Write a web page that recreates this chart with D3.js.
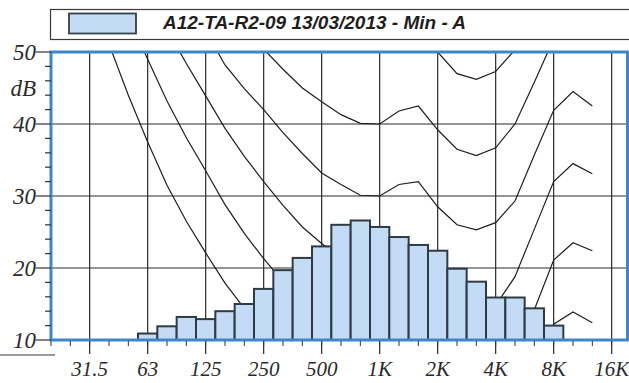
<!DOCTYPE html>
<html>

<head>
  <title>Spectre tiers d'octave</title>
  <script type="text/javascript" src="https://cdn.jsdelivr.net/npm/d3@7"></script>
  <style>
    body { margin: 0; background: #fff; }
    svg { display: block; }
  </style>
</head>

<body>
  <script type="text/javascript">
    // Window size
    const w = 629;
    const h = 383;

    // Third-octave bands (Hz)
    const bands = ["20", "25", "31.5", "40", "50", "63", "80", "100", "125", "160", "200", "250",
      "315", "400", "500", "630", "800", "1000", "1250", "1600", "2000", "2500", "3150",
      "4000", "5000", "6300", "8000", "10000", "12500", "16000", "20000"];

    // Measured level per band, dB (10 = nothing shown)
    const levels = [10, 10, 10, 10, 10, 10.9, 11.9, 13.2, 12.9, 14.0, 15.0, 17.1,
      19.7, 21.4, 23.0, 26.0, 26.6, 25.7, 24.3, 23.2, 22.4, 19.9, 18.1,
      15.9, 15.9, 14.4, 12.0, 10, 10, 10, 10];

    // Equal-loudness curves, 20 Hz .. 12.5 kHz
    const curveBands = bands.slice(0, 29);
    const curve0 = [78.5, 68.7, 59.5, 51.1, 44.0, 37.5, 31.5, 26.5, 22.1, 17.9, 14.4, 11.4, 8.6, 6.2,
      4.4, 3.0, 2.2, 2.4, 3.5, 1.7, -1.3, -4.2, -6.0, -5.4, -1.5, 6.0, 12.2, 13.9, 12.4];
    const curve10 = [83.8, 75.8, 68.2, 61.1, 55.0, 49.0, 43.2, 38.1, 33.5, 28.8, 24.8, 21.3, 18.1, 15.1,
      13.0, 11.2, 10.0, 10.0, 11.3, 10.4, 6.3, 1.9, 0.1, 0.3, 4.0, 14.2, 21.1, 23.5, 22.4];
    const curve20 = [89.6, 82.7, 76.0, 69.6, 64.0, 58.6, 53.2, 48.4, 43.9, 39.4, 35.5, 32.0, 28.7, 25.7,
      23.4, 21.5, 20.1, 20.0, 21.5, 21.4, 17.4, 13.9, 12.8, 14.8, 18.8, 25.4, 32.0, 34.5, 33.1];
    const curve30 = [95.5, 89.5, 83.5, 77.5, 72.5, 67.5, 62.5, 57.5, 53.0, 48.2, 44.9, 42.0, 38.8, 35.9,
      33.2, 31.6, 30.1, 30.0, 31.6, 32.0, 28.5, 26.0, 25.3, 26.3, 29.3, 35.7, 41.9, 44.5, 42.5];
    const curve40 = [99.9, 93.9, 88.2, 82.6, 77.8, 73.1, 68.5, 64.4, 60.6, 56.7, 53.4, 50.4, 47.6, 45.0,
      43.1, 41.3, 40.1, 40.0, 41.8, 42.5, 39.2, 36.5, 35.6, 36.7, 40.0, 45.8, 51.8, 54.3, 51.5];
    const curve50 = [104.8, 99.2, 93.8, 88.5, 83.8, 79.4, 75.1, 71.2, 67.6, 64.0, 60.9, 58.1, 55.4, 53.3,
      51.7, 50.6, 50.1, 50.0, 51.9, 52.5, 50.0, 47.0, 46.2, 47.3, 50.3, 55.9, 61.7, 64.1, 61.5];
    const curves = [curve0, curve10, curve20, curve30, curve40, curve50];

    // Axis labels
    const octaveBands = ["31.5", "63", "125", "250", "500", "1000", "2000", "4000", "8000", "16000"];
    const octaveLabels = ["31.5", "63", "125", "250", "500", "1K", "2K", "4K", "8K", "16K"];
    const yTicks = [10, 20, 30, 40, 50];
    const legendText = "A12-TA-R2-09 13/03/2013 - Min - A";

    // Plot area (the scale runs to the 20 kHz centre, the frame stops a bit before)
    const pLeft = 51, pRight = 631, pTop = 52, pBottom = 340;
    const frameRight = 627.5;

    const xScale = d3.scalePoint()
      .domain(bands)
      .range([pLeft, pRight]);
    const step = xScale.step();

    const yScale = d3.scaleLinear()
      .domain([10, 50])
      .range([pBottom, pTop]);

    const svg = d3.select("body")
      .append("svg")
      .attr("width", w)
      .attr("height", h);

    svg.append("clipPath")
      .attr("id", "plot")
      .append("rect")
      .attr("x", pLeft)
      .attr("y", pTop)
      .attr("width", frameRight - pLeft)
      .attr("height", pBottom - pTop);

    // Legend box
    svg.append("rect")
      .attr("x", 50.5).attr("y", 9.5)
      .attr("width", 640).attr("height", 30)
      .attr("fill", "#fff")
      .attr("stroke", "#3a3a3a")
      .attr("stroke-width", 1.2);
    svg.append("rect")
      .attr("x", 69).attr("y", 13.5)
      .attr("width", 67).attr("height", 20)
      .attr("fill", "#c4dbf6")
      .attr("stroke", "#33414a")
      .attr("stroke-width", 1.8);
    svg.append("text")
      .attr("x", 163).attr("y", 29)
      .attr("font-family", "Liberation Sans, Arial, sans-serif")
      .attr("font-size", 19)
      .attr("font-weight", "bold")
      .attr("font-style", "italic")
      .attr("fill", "#1e1e1e")
      .text(legendText);

    // Horizontal grid
    svg.selectAll("line.hgrid")
      .data([20, 30, 40])
      .enter()
      .append("line")
      .attr("class", "hgrid")
      .attr("x1", pLeft).attr("x2", frameRight)
      .attr("y1", d => yScale(d)).attr("y2", d => yScale(d))
      .attr("stroke", "#2a2a2a")
      .attr("stroke-width", 1.2);

    // Vertical grid at octaves, running a bit below the axis
    svg.selectAll("line.vgrid")
      .data(octaveBands)
      .enter()
      .append("line")
      .attr("class", "vgrid")
      .attr("x1", d => xScale(d)).attr("x2", d => xScale(d))
      .attr("y1", pTop).attr("y2", pBottom + 14)
      .attr("stroke", "#2a2a2a")
      .attr("stroke-width", 1.2);

    // Curves, under the bars
    const line = d3.line()
      .x((d, i) => xScale(curveBands[i]))
      .y(d => yScale(d));

    svg.append("g")
      .attr("clip-path", "url(#plot)")
      .selectAll("path")
      .data(curves)
      .enter()
      .append("path")
      .attr("d", line)
      .attr("fill", "none")
      .attr("stroke", "#1e1e1e")
      .attr("stroke-width", 1.2);

    // Bars
    svg.selectAll("rect.bar")
      .data(bands.map((b, i) => [b, levels[i]]).filter(d => d[1] > 10))
      .enter()
      .append("rect")
      .attr("class", "bar")
      .attr("x", d => xScale(d[0]) - step / 2)
      .attr("y", d => yScale(d[1]))
      .attr("width", step)
      .attr("height", d => yScale(10) - yScale(d[1]))
      .attr("fill", "#c4dbf6")
      .attr("stroke", "#2f3b42")
      .attr("stroke-width", 2);

    // Blue frame
    svg.append("rect")
      .attr("x", pLeft).attr("y", pTop)
      .attr("width", frameRight - pLeft)
      .attr("height", pBottom - pTop)
      .attr("fill", "none")
      .attr("stroke", "#3f86c8")
      .attr("stroke-width", 3);

    // Small ticks: every band below, every 2 dB on the left
    svg.selectAll("line.xtick")
      .data(bands.slice(0, 30))
      .enter()
      .append("line")
      .attr("class", "xtick")
      .attr("x1", d => xScale(d)).attr("x2", d => xScale(d))
      .attr("y1", pBottom + 1).attr("y2", pBottom + 6)
      .attr("stroke", "#333");

    svg.selectAll("line.ytick")
      .data(d3.range(10, 51, 2))
      .enter()
      .append("line")
      .attr("class", "ytick")
      .attr("x1", d => yTicks.includes(d) ? 36 : 45).attr("x2", pLeft)
      .attr("y1", d => yScale(d)).attr("y2", d => yScale(d))
      .attr("stroke", "#333")
      .attr("stroke-width", 1.2);

    // Y labels
    const serif = "Liberation Serif, Times New Roman, serif";
    svg.selectAll("text.ylab")
      .data(yTicks)
      .enter()
      .append("text")
      .attr("class", "ylab")
      .attr("x", 36).attr("y", d => yScale(d) + 8)
      .attr("text-anchor", "end")
      .attr("font-family", serif)
      .attr("font-style", "italic")
      .attr("font-size", 23)
      .attr("fill", "#2a2a2a")
      .text(d => d);

    svg.append("text")
      .attr("x", 36).attr("y", 96)
      .attr("text-anchor", "end")
      .attr("font-family", serif)
      .attr("font-style", "italic")
      .attr("font-size", 23)
      .attr("fill", "#2a2a2a")
      .text("dB");

    // Line above the frequency labels
    svg.append("line")
      .attr("x1", 0).attr("x2", 55)
      .attr("y1", 355).attr("y2", 355)
      .attr("stroke", "#333");

    // X labels
    svg.selectAll("text.xlab")
      .data(octaveBands)
      .enter()
      .append("text")
      .attr("class", "xlab")
      .attr("x", d => xScale(d)).attr("y", 376)
      .attr("text-anchor", "middle")
      .attr("font-family", serif)
      .attr("font-style", "italic")
      .attr("font-size", 21)
      .attr("fill", "#2a2a2a")
      .text((d, i) => octaveLabels[i]);
  </script>
</body>

</html>
